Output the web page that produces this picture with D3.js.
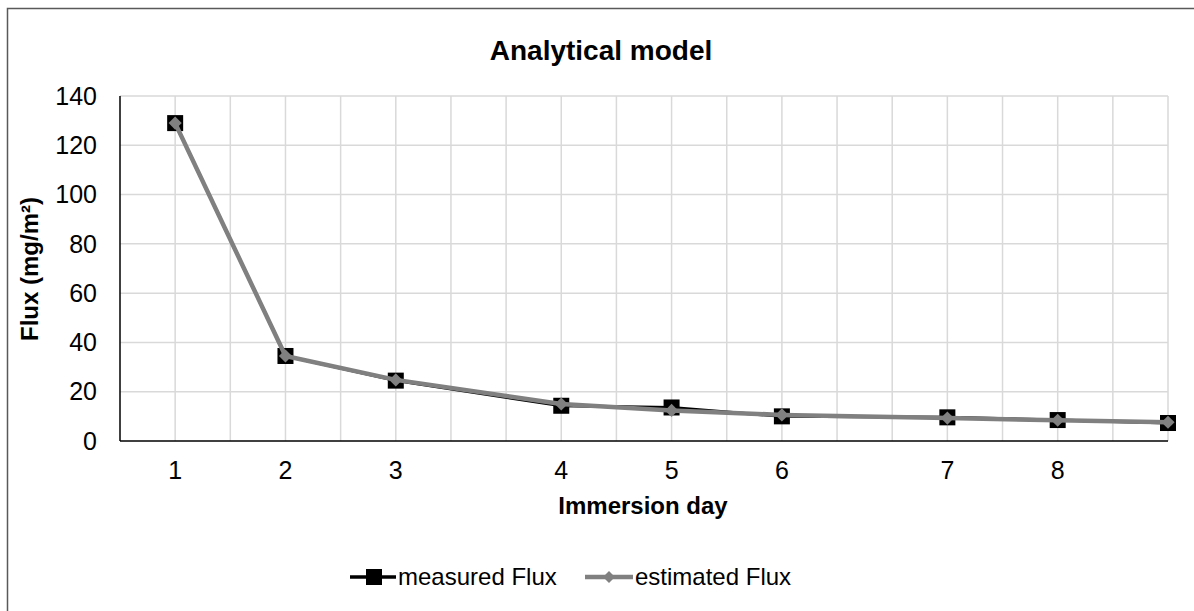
<!DOCTYPE html>
<html>
<head>
<meta charset="utf-8">
<script src="https://cdn.jsdelivr.net/npm/d3@7"></script>
<style>
  html, body { margin: 0; padding: 0; background: #fff; }
  svg { display: block; font-family: "Liberation Sans", Arial, sans-serif; }
</style>
</head>
<body>
<svg id="chart" width="1194" height="611"></svg>
<script>
// ---- data ----
const dayPositions = [1, 3, 5, 8, 10, 12, 15, 17, 19];
const tickLabels = ["1", "2", "3", "4", "5", "6", "7", "8"];
const measuredFlux = [129, 34.5, 24.5, 14.3, 13.6, 10, 9.6, 8.5, 7.3];
const estimatedFlux = [129, 34.5, 24.8, 15, 12.4, 10.6, 9.3, 8.4, 7.6];
const yTicks = [0, 20, 40, 60, 80, 100, 120, 140];
const seriesNames = ["measured Flux", "estimated Flux"];

(function () {
// ---- layout ----
const svg = d3.select("#chart");
const W = 1194, H = 611;
const pLeft = 120, pRight = 1168, pTop = 96, pBottom = 441;
const tickFont = 25, titleFont = 28, axisFont = 24, legendFont = 24;

svg.append("rect").attr("x", 7.5).attr("y", 8.5).attr("width", W + 10).attr("height", H + 10)
  .attr("fill", "#fff").attr("stroke", "#595959").attr("stroke-width", 1.5);

const x = d3.scaleLinear().domain([0, 19]).range([pLeft, pRight]);
const y = d3.scaleLinear().domain([0, 140]).range([pBottom, pTop]);

// grid
const g = svg.append("g");
g.selectAll(".vg").data(d3.range(1, 20)).enter().append("line")
  .attr("x1", d => x(d)).attr("x2", d => x(d)).attr("y1", pTop).attr("y2", pBottom)
  .attr("stroke", "#d9d9d9").attr("stroke-width", 1.5);
g.selectAll(".hg").data(yTicks.slice(1)).enter().append("line")
  .attr("x1", pLeft).attr("x2", pRight).attr("y1", d => y(d)).attr("y2", d => y(d))
  .attr("stroke", "#d9d9d9").attr("stroke-width", 1.5);

// axes lines
svg.append("line").attr("x1", pLeft).attr("x2", pLeft).attr("y1", pTop).attr("y2", pBottom)
  .attr("stroke", "#000").attr("stroke-width", 1.5);
svg.append("line").attr("x1", pLeft).attr("x2", pRight).attr("y1", pBottom).attr("y2", pBottom)
  .attr("stroke", "#000").attr("stroke-width", 1.5);

// y tick labels
svg.selectAll(".yt").data(yTicks).enter().append("text")
  .attr("x", pLeft - 23).attr("y", d => y(d)).attr("dy", "0.35em")
  .attr("text-anchor", "end").attr("font-size", tickFont).attr("fill", "#000")
  .text(d => d);

// x tick labels
svg.selectAll(".xt").data(tickLabels).enter().append("text")
  .attr("x", (d, i) => x(dayPositions[i])).attr("y", 470).attr("dy", "0.35em")
  .attr("text-anchor", "middle").attr("font-size", tickFont).attr("fill", "#000")
  .text(d => d);

// titles
svg.append("text").attr("x", 601).attr("y", 50).attr("dy", "0.35em")
  .attr("text-anchor", "middle").attr("font-size", titleFont).attr("font-weight", "bold")
  .text("Analytical model");
svg.append("text").attr("x", 643).attr("y", 506).attr("dy", "0.35em")
  .attr("text-anchor", "middle").attr("font-size", axisFont).attr("font-weight", "bold")
  .text("Immersion day");
svg.append("text").attr("transform", "translate(30,269) rotate(-90)").attr("dy", "0.35em")
  .attr("text-anchor", "middle").attr("font-size", axisFont).attr("font-weight", "bold")
  .text("Flux (mg/m²)");

// series
const line = d3.line().x((d, i) => x(dayPositions[i])).y(d => y(d));
svg.append("path").datum(measuredFlux).attr("d", line)
  .attr("fill", "none").attr("stroke", "#000").attr("stroke-width", 3);
svg.selectAll(".sq").data(measuredFlux).enter().append("rect")
  .attr("x", (d, i) => x(dayPositions[i]) - 8).attr("y", d => y(d) - 8)
  .attr("width", 16).attr("height", 16).attr("fill", "#000");

svg.append("path").datum(estimatedFlux).attr("d", line)
  .attr("fill", "none").attr("stroke", "#808080").attr("stroke-width", 4.5)
  .attr("stroke-linejoin", "round");
const diamond = d3.symbol().type(d3.symbolDiamond2).size(110);
svg.selectAll(".dm").data(estimatedFlux).enter().append("path")
  .attr("d", diamond)
  .attr("transform", (d, i) => `translate(${x(dayPositions[i])},${y(d)})`)
  .attr("fill", "#808080");

// legend
const ly = 577;
const lg = svg.append("g");
lg.append("line").attr("x1", 350).attr("x2", 396).attr("y1", ly).attr("y2", ly)
  .attr("stroke", "#000").attr("stroke-width", 3.5);
lg.append("rect").attr("x", 366).attr("y", ly - 8).attr("width", 16).attr("height", 16).attr("fill", "#000");
lg.append("text").attr("x", 398).attr("y", ly).attr("dy", "0.35em").attr("font-size", legendFont)
  .text(seriesNames[0]);
lg.append("line").attr("x1", 585).attr("x2", 633).attr("y1", ly).attr("y2", ly)
  .attr("stroke", "#808080").attr("stroke-width", 4.5);
lg.append("path").attr("d", d3.symbol().type(d3.symbolDiamond2).size(90))
  .attr("transform", `translate(609,${ly})`).attr("fill", "#808080");
lg.append("text").attr("x", 635).attr("y", ly).attr("dy", "0.35em").attr("font-size", legendFont)
  .text(seriesNames[1]);
})();
</script>
</body>
</html>
